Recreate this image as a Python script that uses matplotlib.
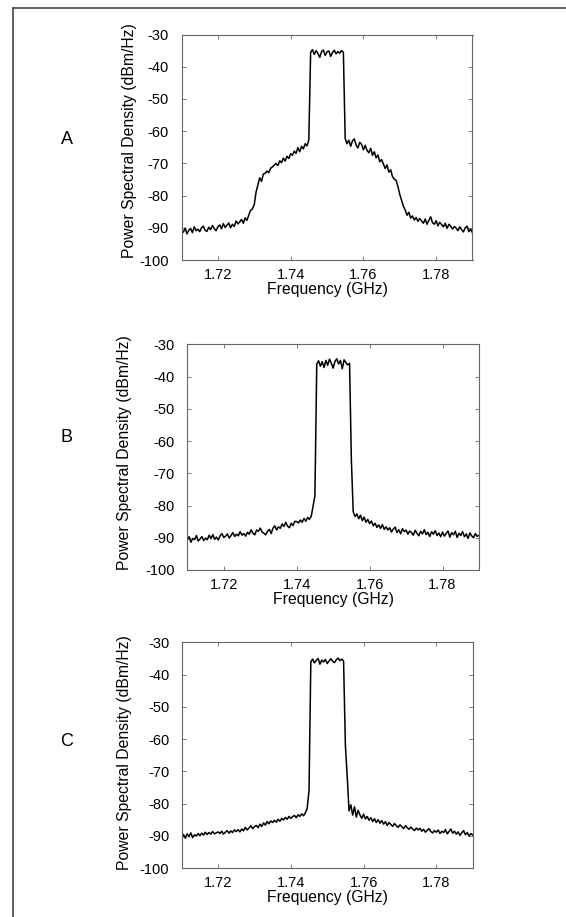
import numpy as np
import matplotlib
matplotlib.use('Agg')
import matplotlib.pyplot as plt
from matplotlib.lines import Line2D

plt.rcParams['font.family'] = ['Liberation Sans', 'DejaVu Sans']

# frequency samples (GHz), 0.5 MHz apart
freq = np.round(np.arange(1.7100, 1.79001, 0.0005), 4)

psd_a = [
    -90.6, -91.4, -90.1, -91.9, -90.8, -90.2, -91.5, -89.7, -90.9, -90.4, -91.2,
    -90.0, -89.5, -90.8, -91.1, -89.8, -90.6, -89.3, -90.2, -90.9, -89.7,
    -89.1, -90.3, -88.7, -89.9, -89.2, -88.5, -90.0, -88.9, -89.6, -87.9,
    -88.8, -88.2, -87.4, -88.6, -86.9, -87.7, -86.0, -84.6, -84.1, -82.8,
    -78.9, -76.7, -74.5, -75.6, -73.3, -73.1, -72.4, -72.9, -71.5, -71.1,
    -70.6, -70.0, -70.7, -69.2, -69.8, -68.4, -69.3, -67.8, -68.5, -67.0,
    -67.5, -66.2, -66.9, -65.1, -66.4, -64.7, -65.5, -63.9, -64.6, -62.7,
    -35.6, -34.7, -36.2, -35.0, -35.9, -37.1, -35.3, -34.8, -36.5, -35.4,
    -35.1, -36.8, -35.6, -34.9, -36.0, -35.3, -35.8, -35.0, -35.5,
    -62.3, -63.9, -62.8, -64.7, -63.0, -62.4, -64.3, -65.2, -63.5, -64.1,
    -65.8, -64.4, -66.0, -66.7, -65.3, -67.5, -66.4, -68.3, -67.4, -69.5,
    -68.8, -70.2, -71.6, -70.5, -72.7, -72.0, -74.1, -74.9, -75.3, -77.2,
    -79.6, -81.5, -83.3, -84.5, -86.1, -85.2, -87.0, -86.3, -87.6, -86.8,
    -88.0, -87.1, -87.9, -88.6, -87.3, -88.9, -87.7, -86.6, -88.4, -88.9,
    -87.8, -89.4, -88.3, -89.0, -89.7, -88.6, -90.2, -88.9, -89.5, -90.4,
    -89.6, -90.1, -90.9, -89.7, -90.6, -91.3, -90.0, -89.5, -91.2, -90.4, -91.6,
]

psd_b = [
    -90.8, -89.7, -91.4, -90.2, -90.6, -89.3, -91.0, -90.4, -89.6, -90.9, -90.1,
    -90.6, -89.2, -90.3, -89.0, -90.5, -89.8, -90.7, -89.4, -88.7, -89.9,
    -89.5, -88.8, -90.1, -89.3, -88.4, -89.6, -88.9, -89.4, -88.1, -89.2,
    -88.7, -89.5, -88.3, -88.9, -87.5, -88.6, -89.1, -87.6, -88.0, -87.0,
    -88.2, -88.6, -89.1, -88.0, -87.4, -88.7, -87.0, -86.3, -87.6, -86.6,
    -87.1, -85.7, -86.5, -85.2, -86.4, -86.9, -85.5, -86.2, -84.9, -85.0,
    -85.4, -84.5, -85.2, -84.0, -84.9, -83.7, -84.3, -83.3, -80.1, -77.0,
    -36.2, -35.1, -36.8, -35.4, -37.2, -35.0, -36.5, -34.6, -35.9, -37.4,
    -35.3, -34.5, -36.1, -35.0, -37.6, -34.8, -35.7, -36.4, -35.9,
    -66.0, -81.9, -83.4, -82.6, -84.1, -83.0, -84.7, -83.6, -85.2, -84.3,
    -85.6, -84.8, -86.3, -85.5, -86.8, -86.0, -87.1, -85.9, -87.4, -86.6,
    -87.6, -86.9, -88.2, -87.3, -86.7, -88.4, -87.5, -88.8, -87.2, -88.1,
    -87.6, -88.9, -87.9, -88.4, -89.2, -87.7, -88.6, -89.4, -88.0, -88.8,
    -87.5, -89.0, -88.3, -89.6, -88.1, -88.9, -87.8, -89.3, -88.5, -89.7,
    -88.2, -89.5, -88.7, -87.9, -89.8, -88.4, -89.1, -88.0, -89.9, -88.6,
    -89.3, -88.1, -89.7, -88.8, -90.2, -88.5, -89.4, -90.0, -88.7, -89.6, -89.2,
]

psd_c = [
    -91.2, -89.6, -90.8, -89.4, -90.3, -89.1, -90.6, -89.7, -90.1, -89.3, -90.0,
    -89.2, -89.8, -88.9, -89.6, -89.0, -89.5, -88.7, -89.4, -89.1, -88.8,
    -89.3, -88.6, -89.5, -88.9, -88.4, -89.2, -88.5, -89.0, -88.2, -88.7,
    -88.1, -88.8, -87.9, -88.5, -87.4, -88.2, -87.6, -86.9, -87.8, -87.2,
    -86.8, -87.5, -86.4, -87.1, -86.0, -86.7, -85.6, -86.3, -85.4, -85.9,
    -85.2, -85.8, -84.9, -85.5, -84.6, -85.1, -84.3, -84.9, -84.0, -84.6,
    -84.1, -83.7, -84.4, -83.5, -84.0, -83.2, -83.8, -82.9, -81.5, -76.0,
    -36.0, -35.2, -36.4, -35.6, -35.0, -36.8, -35.5, -36.1, -35.3, -36.6,
    -35.8, -35.1, -35.9, -36.3, -35.4, -34.9, -35.7, -35.2, -35.8,
    -62.0, -71.5, -82.3, -80.4, -83.6, -81.0, -84.2, -82.1, -83.5, -84.6,
    -83.3, -84.8, -84.0, -85.2, -84.4, -85.6, -84.7, -85.9, -85.0, -86.1,
    -85.3, -86.4, -85.6, -86.8, -85.9, -86.5, -87.1, -86.2, -86.9, -87.4,
    -86.6, -87.2, -87.8, -86.9, -87.5, -88.0, -87.3, -87.9, -88.4, -87.6,
    -88.2, -87.7, -88.6, -88.0, -88.9, -88.3, -87.8, -88.7, -89.1, -88.4,
    -88.9, -88.2, -89.3, -88.6, -89.0, -88.1, -89.4, -88.7, -87.9, -89.2,
    -88.6, -89.5, -88.8, -89.9, -89.1, -88.4, -89.7, -89.0, -90.1, -89.3, -89.8,
]

panel_names = ['A', 'B', 'C']
x_ticks = [1.72, 1.74, 1.76, 1.78]
y_ticks = [-100, -90, -80, -70, -60, -50, -40, -30]

W, H = 566, 917
fig = plt.figure(figsize=(W / 100, H / 100), dpi=100)

# axes boxes in pixels: left, right, top, bottom
boxes = [(181.5, 472.5, 34.5, 260.0),
         (187.3, 479.0, 344.3, 570.0),
         (181.7, 472.7, 642.3, 868.0)]
letter_pos = [(67, 140), (67, 437), (67, 742)]
# y label anchor (axes fraction)
ylabel_xy = [(-0.154, 0.53), (-0.191, 0.518), (-0.172, 0.51)]

for name, psd, (l, r, t, b), (lx, ly), (yx, yy) in zip(panel_names, [psd_a, psd_b, psd_c],
                                                       boxes, letter_pos, ylabel_xy):
    ax = fig.add_axes([l / W, 1 - b / H, (r - l) / W, (b - t) / H])
    ax.plot(freq, psd, color='black', lw=1.1)
    ax.set_xlim(1.71, 1.79)
    ax.set_ylim(-100, -30)
    ax.set_xticks(x_ticks)
    ax.set_xticklabels(['%.2f' % v for v in x_ticks])
    ax.set_yticks(y_ticks)
    ax.set_yticklabels([str(v) for v in y_ticks])
    ax.tick_params(axis='both', direction='in', length=3, width=0.6, color='#666666',
                   top=True, right=True, labelsize=10.5)
    ax.tick_params(axis='y', pad=9)
    ax.tick_params(axis='x', pad=5.5)
    for s in ax.spines.values():
        s.set_color('#666666')
        s.set_linewidth(0.8)
    ax.set_xlabel('Frequency (GHz)', fontsize=11.3, labelpad=0)
    ax.set_ylabel('Power Spectral Density (dBm/Hz)', fontsize=11.3)
    ax.yaxis.set_label_coords(yx, yy)
    fig.text(lx / W, 1 - ly / H, name, fontsize=13, ha='center', va='center')

# outer frame, cut off at right and bottom
fig.add_artist(Line2D([13 / W, 13 / W], [0, 1 - 8 / H], color='#444444', lw=1.2))
fig.add_artist(Line2D([13 / W, 1], [1 - 8 / H, 1 - 8 / H], color='#444444', lw=1.2))

fig.savefig('out.png', dpi=100)
